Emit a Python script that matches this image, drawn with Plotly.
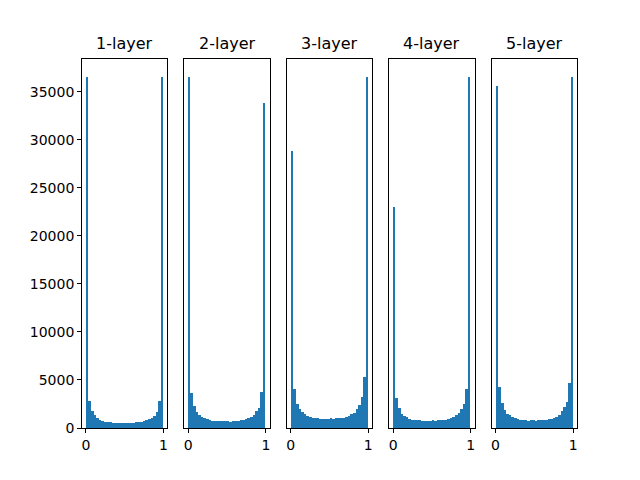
import numpy as np
import plotly.graph_objects as go

titles = ["1-layer", "2-layer", "3-layer", "4-layer", "5-layer"]

# counts per bin (30 bins over [0, 1])
layer1 = [36600, 2810, 1770, 1350, 1080, 870, 760, 660, 660, 590,
          560, 520, 520, 520, 520, 520, 520, 540, 560, 590,
          620, 660, 730, 800, 900, 1080, 1250, 1650, 2810, 36600]
layer2 = [36600, 3650, 2290, 1670, 1350, 1150, 1040, 940, 830, 730,
          730, 730, 730, 730, 730, 730, 640, 730, 780, 780,
          830, 830, 940, 1040, 1150, 1350, 1770, 2080, 3750, 33900]
layer3 = [28800, 4100, 2530, 1950, 1700, 1490, 1250, 1150, 1040, 1040,
          1040, 940, 940, 940, 940, 1040, 940, 1040, 1040, 1040,
          1040, 1150, 1250, 1460, 1560, 2010, 2430, 3230, 5300, 36600]
layer4 = [23000, 3130, 2080, 1460, 1250, 1150, 940, 830, 830, 830,
          830, 730, 730, 730, 730, 830, 760, 830, 830, 830,
          830, 940, 1040, 1150, 1350, 1560, 1980, 2500, 4060, 36600]
layer5 = [35600, 4270, 2600, 1880, 1460, 1350, 1150, 1040, 940, 830,
          800, 800, 760, 830, 830, 760, 830, 830, 830, 830,
          940, 940, 1040, 1150, 1350, 1770, 2190, 2710, 4690, 36600]
layers = [layer1, layer2, layer3, layer4, layer5]

y_ticks = [0, 5000, 10000, 15000, 20000, 25000, 30000, 35000]

edges = np.linspace(0, 1, 31)
centers = (edges[:-1] + edges[1:]) / 2
width = edges[1] - edges[0]

fig = go.Figure()
w = 1 / 5.8
ymax = max(max(l) for l in layers) * 1.05
axis_line = dict(showline=True, linecolor="black", linewidth=0.8, mirror=True,
                 showgrid=False, zeroline=False)

for i, (title, counts) in enumerate(zip(titles, layers)):
    n = "" if i == 0 else str(i + 1)
    fig.add_trace(go.Bar(
        x=centers, y=counts, width=width,
        marker=dict(color="#1f77b4", line=dict(width=0)),
        xaxis="x" + n, yaxis="y" + n, showlegend=False
    ))
    x0 = i * 1.2 * w
    fig.layout["xaxis" + n] = dict(
        domain=[x0, min(x0 + w, 1)], range=[-0.05, 1.05],
        tickvals=[0, 1], ticktext=["0", "1"], ticks="outside",
        ticklen=4, tickcolor="black", anchor="y" + n, **axis_line
    )
    fig.layout["yaxis" + n] = dict(
        range=[0, ymax], anchor="x" + n,
        tickvals=y_ticks if i == 0 else [],
        ticktext=[str(t) for t in y_ticks] if i == 0 else [],
        ticks="outside" if i == 0 else "", ticklen=4, tickcolor="black",
        showticklabels=(i == 0), **axis_line
    )
    fig.add_annotation(
        text=title, x=x0 + w / 2, y=1, xref="paper", yref="paper",
        xanchor="center", yanchor="bottom", yshift=4, showarrow=False,
        font=dict(size=16, color="black")
    )

fig.update_layout(
    width=640, height=480,
    paper_bgcolor="white", plot_bgcolor="white",
    font=dict(family="DejaVu Sans", size=14, color="black"),
    margin=dict(l=74, r=71, t=51, b=60),
    bargap=0
)

fig.write_html("out.html")
